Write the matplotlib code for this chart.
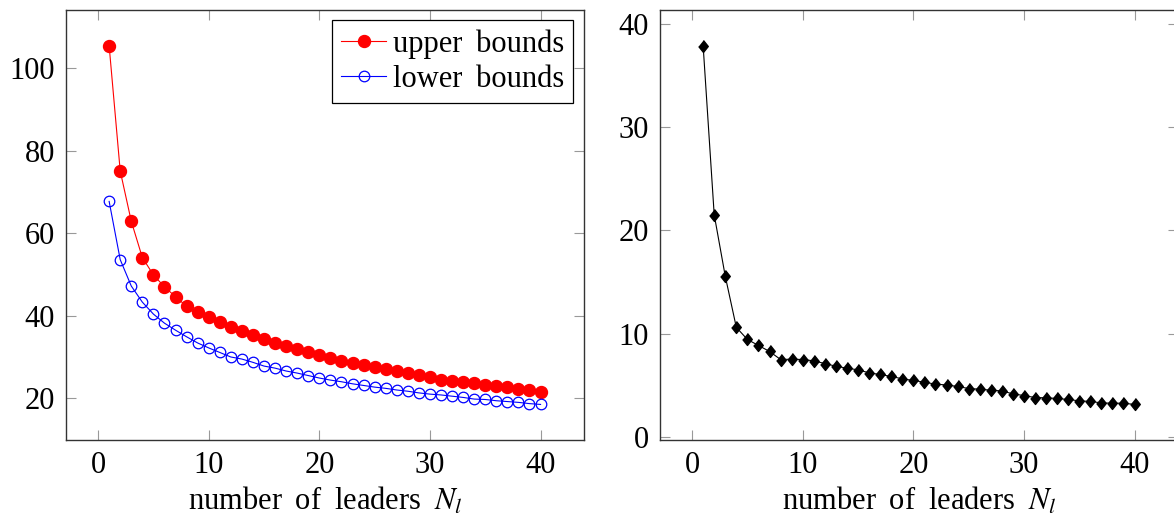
import matplotlib
matplotlib.use("Agg")
import matplotlib.pyplot as plt

plt.rcParams['font.family'] = ['Liberation Serif', 'DejaVu Serif']
plt.rcParams['mathtext.fontset'] = 'stix'

leaders = list(range(1, 41))

upper_bounds = [105.4, 75.1, 62.9, 54.1, 49.9, 47.0, 44.6, 42.3, 40.9, 39.6,
                38.4, 37.2, 36.2, 35.3, 34.4, 33.4, 32.6, 32.0, 31.2, 30.4,
                29.8, 29.1, 28.6, 28.0, 27.6, 27.1, 26.5, 26.1, 25.6, 25.1,
                24.5, 24.3, 23.9, 23.6, 23.2, 23.0, 22.7, 22.2, 21.9, 21.5]

lower_bounds = [67.7, 53.6, 47.2, 43.3, 40.4, 38.2, 36.5, 34.9, 33.4, 32.2,
                31.1, 30.0, 29.5, 28.7, 27.8, 27.3, 26.6, 26.1, 25.5, 24.9,
                24.4, 24.0, 23.5, 23.1, 22.7, 22.4, 22.0, 21.7, 21.3, 21.0,
                20.8, 20.5, 20.2, 19.8, 19.7, 19.4, 19.2, 19.0, 18.7, 18.5]

gap = [37.85, 21.5, 15.55, 10.6, 9.43, 8.85, 8.27, 7.49, 7.52, 7.49,
       7.36, 7.1, 6.84, 6.65, 6.49, 6.2, 6.04, 5.85, 5.62, 5.46,
       5.3, 5.1, 5.03, 4.88, 4.68, 4.62, 4.52, 4.45, 4.16, 4.0,
       3.81, 3.78, 3.72, 3.62, 3.49, 3.43, 3.29, 3.26, 3.26, 3.14]

xticks = [0, 10, 20, 30, 40]
left_yticks = [20, 40, 60, 80, 100]
right_yticks = [0, 10, 20, 30, 40]

FS = 22
W, H = 1174, 519
SP = ' \u2009'  # a slightly wider word gap

fig = plt.figure(figsize=(W / 100, H / 100), dpi=100)
ax1 = fig.add_axes([66 / W, (H - 440.3) / H, 517.7 / W, 430.3 / H])
ax2 = fig.add_axes([660 / W, (H - 440.3) / H, 517.7 / W, 430.3 / H])


def style(ax, yticks):
    ax.margins(x=0.1, y=0.1)
    ax.set_xticks(xticks)
    ax.set_yticks(yticks)
    ax.tick_params(direction='in', length=7.5, width=0.8, color='#999999',
                   top=True, right=True, labelsize=FS, pad=8)
    for s in ax.spines.values():
        s.set_color('#333333')
        s.set_linewidth(1.0)
    ax.set_xlabel('number' + SP + 'of' + SP + 'leaders' + SP + r'$N_l$',
                  fontsize=FS, labelpad=4)


ax1.plot(leaders, upper_bounds, color='red', lw=0.8, marker='o', ms=8.6,
         mfc='red', mec='red', label='upper' + SP + 'bounds')
ax1.plot(leaders, lower_bounds, color='blue', lw=0.8, marker='o', ms=7.6,
         mfc='none', mec='blue', mew=0.9, label='lower' + SP + 'bounds')
style(ax1, left_yticks)
leg = ax1.legend(loc='upper right', fontsize=FS, frameon=True, fancybox=False,
                 framealpha=1, edgecolor='black', handlelength=1.47,
                 handletextpad=0.22, borderaxespad=0.34, borderpad=0.3,
                 labelspacing=0.2)
leg.get_frame().set_linewidth(0.9)

diamond = [(0, 1), (0.8, 0), (0, -1), (-0.8, 0)]
ax2.plot(leaders, gap, color='black', lw=0.8, marker=diamond, ms=8.6,
         mfc='black', mec='black')
style(ax2, right_yticks)

fig.savefig('out.png', dpi=100)
